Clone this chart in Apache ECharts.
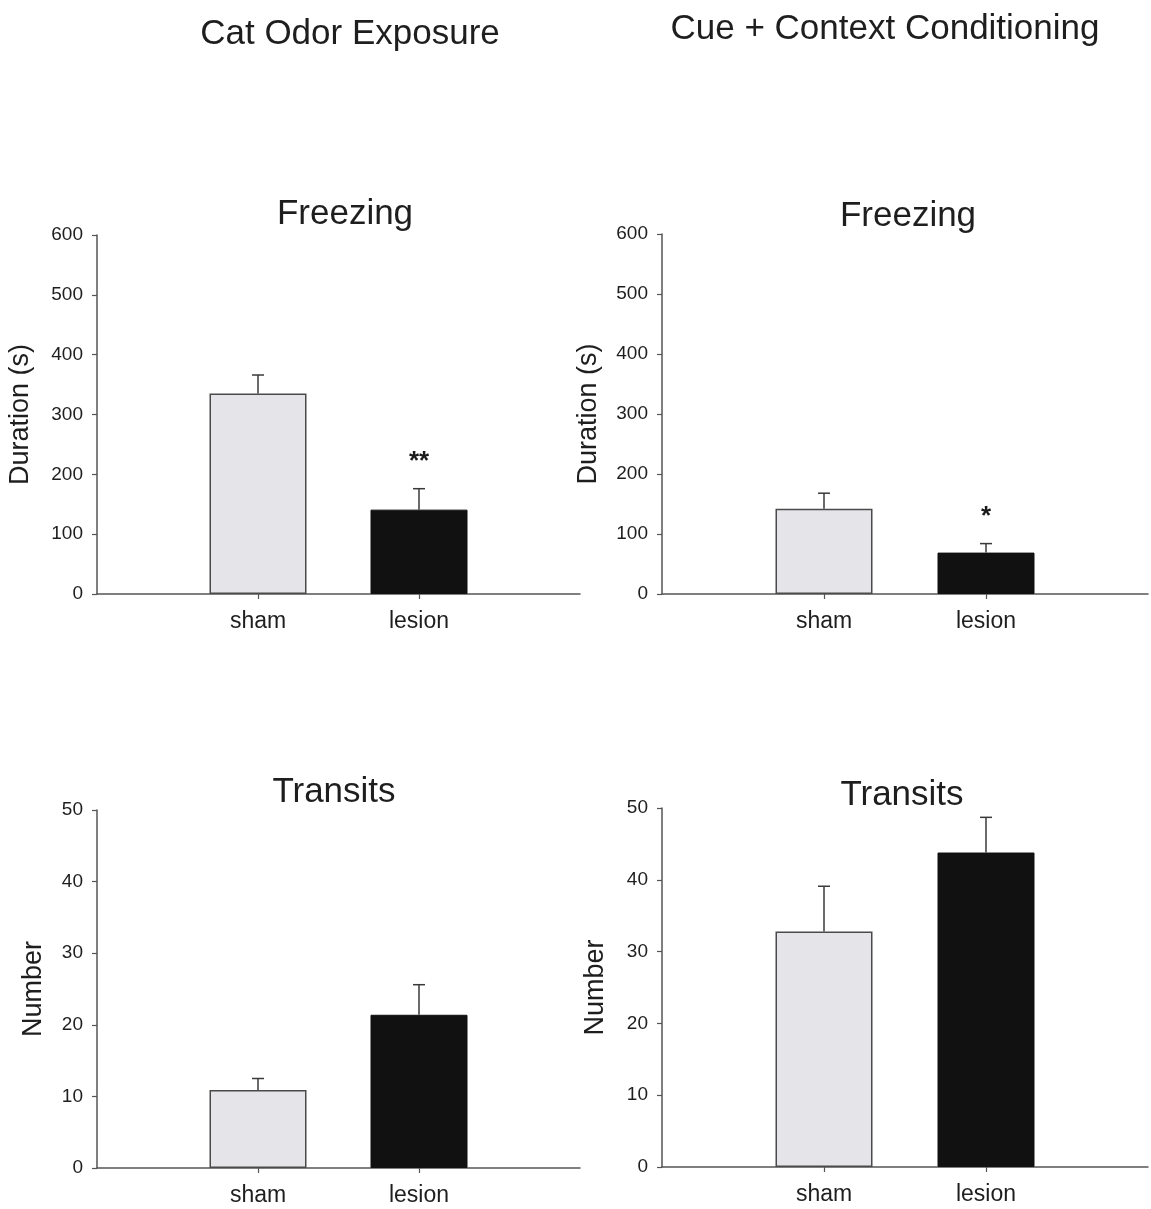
<!DOCTYPE html>
<html>
<head>
<meta charset="utf-8">
<script src="https://cdn.jsdelivr.net/npm/echarts@6/dist/echarts.min.js"></script>
<style>
  html, body { margin: 0; padding: 0; background: #ffffff; }
  #chart { width: 1151px; height: 1209px; }
</style>
</head>
<body>
<div id="chart"></div>
<script>
// ---- data ----
const categories = ['sham', 'lesion'];

const catFreezeMean = [335, 141];
const catFreezeSEM  = [31, 35];
const catFreezeSig  = ['', '**'];

const cueFreezeMean = [142, 69];
const cueFreezeSEM  = [26, 15];
const cueFreezeSig  = ['', '*'];

const catTransitMean = [10.9, 21.4];
const catTransitSEM  = [1.6, 4.2];
const catTransitSig  = ['', ''];

const cueTransitMean = [32.8, 43.8];
const cueTransitSEM  = [6.3, 4.9];
const cueTransitSig  = ['', ''];

const freezeTicks = { min: 0, max: 600, interval: 100 };
const transitTicks = { min: 0, max: 50, interval: 10 };

const columnTitles = ['Cat Odor Exposure', 'Cue + Context Conditioning'];
const panelTitles = ['Freezing', 'Freezing', 'Transits', 'Transits'];
const yNames = ['Duration (s)', 'Duration (s)', 'Number', 'Number'];

// ---- build ----
const FONT = '"Liberation Sans", Arial, Helvetica, sans-serif';
const TXT = '#1e1e1e';
const AX = '#555555';
const paddedCats = [''].concat(categories, ['']);

const grids = [
  { left: 97,  top: 235, width: 483, height: 359 },
  { left: 662, top: 234, width: 488, height: 360 },
  { left: 97,  top: 810, width: 483, height: 358 },
  { left: 662, top: 808, width: 488, height: 359 }
];
const nameGaps = [63, 60, 50, 53];
const panels = [
  { mean: catFreezeMean, sem: catFreezeSEM, sig: catFreezeSig, ticks: freezeTicks },
  { mean: cueFreezeMean, sem: cueFreezeSEM, sig: cueFreezeSig, ticks: freezeTicks },
  { mean: catTransitMean, sem: catTransitSEM, sig: catTransitSig, ticks: transitTicks },
  { mean: cueTransitMean, sem: cueTransitSEM, sig: cueTransitSig, ticks: transitTicks }
];
const barStyles = [
  { color: '#e5e4e9', borderColor: '#4a4a4a', borderWidth: 1.5 },
  { color: '#111111', borderColor: '#111111', borderWidth: 1 }
];

const xAxes = [], yAxes = [], series = [];
panels.forEach((p, i) => {
  xAxes.push({
    type: 'category', gridIndex: i, data: paddedCats, boundaryGap: false,
    axisLine: { lineStyle: { color: AX, width: 1.5 } },
    axisTick: { show: true, length: 5, inside: false, lineStyle: { color: AX, width: 1.2 },
      interval: (idx) => idx > 0 && idx <= categories.length },
    axisLabel: { color: TXT, fontSize: 23, fontFamily: FONT, margin: 16,
      interval: 0 },
    splitLine: { show: false }
  });
  yAxes.push({
    type: 'value', gridIndex: i, min: p.ticks.min, max: p.ticks.max, interval: p.ticks.interval,
    name: yNames[i], nameLocation: 'middle', nameGap: nameGaps[i],
    nameTextStyle: { color: TXT, fontSize: 27, fontFamily: FONT },
    axisLine: { show: true, lineStyle: { color: AX, width: 1.5 } },
    axisTick: { show: true, length: 5, lineStyle: { color: AX, width: 1.2 } },
    axisLabel: { color: TXT, fontSize: 19, fontFamily: FONT, margin: 14 },
    splitLine: { show: false }
  });
  series.push({
    type: 'bar', xAxisIndex: i, yAxisIndex: i, barWidth: 97, silent: true,
    data: categories.map((c, k) => ({ value: [c, p.mean[k]], itemStyle: barStyles[k] })),
    animation: false
  });
  series.push({
    type: 'custom', xAxisIndex: i, yAxisIndex: i, silent: true, animation: false, z: 5,
    data: categories.map((c, k) => [c, p.mean[k], p.mean[k] + p.sem[k], p.sig[k]]),
    encode: { x: 0, y: [1, 2] },
    renderItem: function (params, api) {
      const x = api.value(0);
      const base = api.coord([x, api.value(1)]);
      const top = api.coord([x, api.value(2)]);
      const sig = p.sig[params.dataIndex];
      const children = [
        { type: 'line', shape: { x1: base[0], y1: base[1], x2: top[0], y2: top[1] },
          style: { stroke: '#3a3a3a', lineWidth: 1.5 } },
        { type: 'line', shape: { x1: top[0] - 6, y1: top[1], x2: top[0] + 6, y2: top[1] },
          style: { stroke: '#3a3a3a', lineWidth: 1.5 } }
      ];
      if (sig) {
        children.push({ type: 'text', x: top[0], y: top[1] - 27,
          style: { text: sig, fill: '#1a1a1a', fontSize: 26, fontFamily: FONT, fontWeight: 'bold',
            textAlign: 'center', textVerticalAlign: 'middle' } });
      }
      return { type: 'group', children: children };
    }
  });
});

const titleTextStyle = { fill: TXT, fontSize: 35, fontFamily: FONT, textAlign: 'center', textVerticalAlign: 'middle' };
const titlePos = [ [350, 34], [885, 29] ];
const panelTitlePos = [ [345, 214], [908, 216], [334, 792], [902, 795] ];
const graphics = [];
columnTitles.forEach((t, i) => graphics.push({ type: 'text', x: titlePos[i][0], y: titlePos[i][1],
  style: Object.assign({ text: t }, titleTextStyle) }));
panelTitles.forEach((t, i) => graphics.push({ type: 'text', x: panelTitlePos[i][0], y: panelTitlePos[i][1],
  style: Object.assign({ text: t }, titleTextStyle) }));

const chart = echarts.init(document.getElementById('chart'), null, { renderer: 'canvas' });
chart.setOption({
  backgroundColor: '#ffffff',
  animation: false,
  grid: grids,
  xAxis: xAxes,
  yAxis: yAxes,
  series: series,
  graphic: graphics
});
</script>
</body>
</html>
